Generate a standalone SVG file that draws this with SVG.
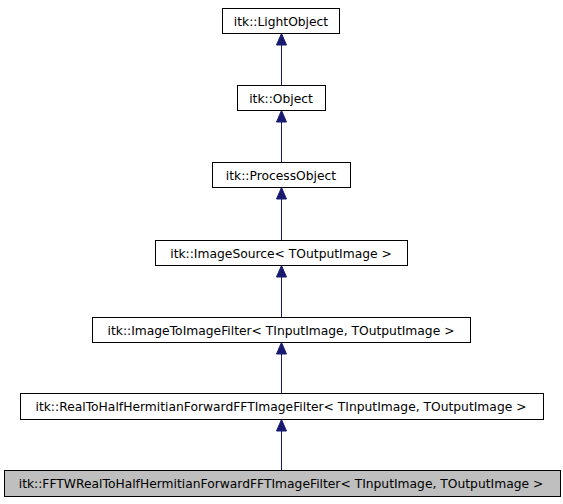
<svg xmlns="http://www.w3.org/2000/svg" width="563" height="504" viewBox="0 0 563 504">
<style>
.box{fill:#ffffff;stroke:#000000;stroke-width:1}
.cur{fill:#bfbfbf;stroke:#000000;stroke-width:1}
.lbl{font-family:"DejaVu Sans",sans-serif;font-size:12.3px;fill:#000000;text-anchor:middle}
.edge{stroke:#191970;stroke-width:1;fill:none}
.head{fill:#191970;stroke:#191970;stroke-width:1}
</style>
<rect width="563" height="504" fill="#ffffff"/>
<g id="connectors">
<line class="edge" x1="281.5" y1="85" x2="281.5" y2="45"/>
<polygon class="head" points="281.5,33.5 276.5,45 286.5,45"/>
<line class="edge" x1="281.5" y1="162" x2="281.5" y2="122"/>
<polygon class="head" points="281.5,110.5 276.5,122 286.5,122"/>
<line class="edge" x1="281.5" y1="240" x2="281.5" y2="199"/>
<polygon class="head" points="281.5,187.5 276.5,199 286.5,199"/>
<line class="edge" x1="281.5" y1="317" x2="281.5" y2="277"/>
<polygon class="head" points="281.5,265.5 276.5,277 286.5,277"/>
<line class="edge" x1="281.5" y1="393" x2="281.5" y2="354"/>
<polygon class="head" points="281.5,342.5 276.5,354 286.5,354"/>
<line class="edge" x1="281.5" y1="470" x2="281.5" y2="431"/>
<polygon class="head" points="281.5,419.5 276.5,431 286.5,431"/>
</g>
<g id="LightObject">
<rect class="box" x="222.5" y="8.5" width="117" height="25"/>
<text class="lbl" x="281" y="25.5">itk::LightObject</text>
</g>
<g id="Object">
<rect class="box" x="237.5" y="85.5" width="88" height="25"/>
<text class="lbl" x="281" y="102.5">itk::Object</text>
</g>
<g id="ProcessObject">
<rect class="box" x="212.5" y="162.5" width="138" height="25"/>
<text class="lbl" x="281" y="179.5">itk::ProcessObject</text>
</g>
<g id="ImageSource">
<rect class="box" x="155.5" y="240.5" width="252" height="25"/>
<text class="lbl" x="281" y="257.5">itk::ImageSource&lt; TOutputImage &gt;</text>
</g>
<g id="ImageToImageFilter">
<rect class="box" x="92.5" y="317.5" width="378" height="25"/>
<text class="lbl" x="281" y="334.5">itk::ImageToImageFilter&lt; TInputImage, TOutputImage &gt;</text>
</g>
<g id="RealToHalfHermitianForwardFFTImageFilter">
<rect class="box" x="20.5" y="393.5" width="523" height="26"/>
<text class="lbl" x="281" y="411">itk::RealToHalfHermitianForwardFFTImageFilter&lt; TInputImage, TOutputImage &gt;</text>
</g>
<g id="FFTWRealToHalfHermitianForwardFFTImageFilter">
<rect class="cur" x="4.5" y="470.5" width="556" height="26"/>
<text class="lbl" x="281" y="488">itk::FFTWRealToHalfHermitianForwardFFTImageFilter&lt; TInputImage, TOutputImage &gt;</text>
</g>
</svg>
